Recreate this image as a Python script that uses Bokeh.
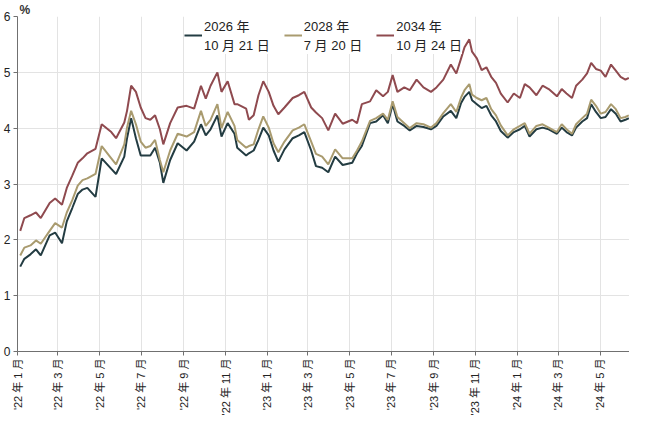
import pandas as pd
from math import pi
from bokeh.plotting import figure
from bokeh.models import ColumnDataSource, FixedTicker, Legend, LegendItem
from bokeh.embed import file_html
from bokeh.resources import INLINE

dates = [
    "2022-01-05", "2022-01-11", "2022-01-20", "2022-01-28", "2022-02-04", "2022-02-17", "2022-02-25",
    "2022-03-07", "2022-03-14", "2022-03-22", "2022-03-30", "2022-04-06", "2022-04-13", "2022-04-25",
    "2022-05-04", "2022-05-18", "2022-05-25", "2022-06-06", "2022-06-10", "2022-06-16", "2022-06-23",
    "2022-06-30", "2022-07-07", "2022-07-14", "2022-07-21", "2022-07-28", "2022-08-02", "2022-08-12",
    "2022-08-23", "2022-09-05", "2022-09-16", "2022-09-26", "2022-10-03", "2022-10-10", "2022-10-20",
    "2022-10-26", "2022-11-04", "2022-11-14", "2022-11-18", "2022-12-01", "2022-12-05", "2022-12-12",
    "2022-12-19", "2022-12-26", "2023-01-03", "2023-01-10", "2023-01-17", "2023-01-26", "2023-02-07",
    "2023-02-16", "2023-02-24", "2023-03-06", "2023-03-13", "2023-03-22", "2023-03-31", "2023-04-10",
    "2023-04-21", "2023-05-05", "2023-05-12", "2023-05-19", "2023-05-31", "2023-06-09", "2023-06-19",
    "2023-06-26", "2023-07-03", "2023-07-10", "2023-07-20", "2023-07-28", "2023-08-07", "2023-08-17",
    "2023-08-28", "2023-09-05", "2023-09-15", "2023-09-26", "2023-10-04", "2023-10-11", "2023-10-16",
    "2023-10-23", "2023-10-27", "2023-11-03", "2023-11-10", "2023-11-17", "2023-11-24", "2023-12-01",
    "2023-12-08", "2023-12-18", "2023-12-27", "2024-01-05", "2024-01-12", "2024-01-19", "2024-01-29",
    "2024-02-07", "2024-02-16", "2024-02-28", "2024-03-06", "2024-03-13", "2024-03-21", "2024-03-27",
    "2024-04-05", "2024-04-12", "2024-04-18", "2024-04-25", "2024-05-02", "2024-05-09", "2024-05-17",
    "2024-05-24", "2024-05-31", "2024-06-07", "2024-06-12",
]

bond_2034 = [
    2.16, 2.39, 2.44, 2.49, 2.39, 2.66, 2.74, 2.63, 2.93, 3.15, 3.38, 3.46, 3.55, 3.63,
    4.07, 3.93, 3.82, 4.10, 4.31, 4.76, 4.65, 4.37, 4.18, 4.15, 4.23, 3.98, 3.71, 4.09,
    4.37, 4.40, 4.35, 4.76, 4.53, 4.76, 5.00, 4.65, 4.84, 4.43, 4.43, 4.35, 4.15, 4.23,
    4.59, 4.84, 4.65, 4.40, 4.25, 4.37, 4.54, 4.59, 4.65, 4.37, 4.28, 4.18, 3.96, 4.26,
    4.08, 4.15, 4.09, 4.43, 4.48, 4.68, 4.57, 4.65, 4.95, 4.65, 4.73, 4.68, 4.87, 4.73,
    4.65, 4.73, 4.87, 5.14, 4.98, 5.25, 5.45, 5.59, 5.37, 5.25, 5.04, 5.09, 4.92, 4.81,
    4.62, 4.46, 4.62, 4.54, 4.79, 4.73, 4.59, 4.76, 4.70, 4.57, 4.70, 4.62, 4.54, 4.76,
    4.87, 4.98, 5.17, 5.06, 5.03, 4.92, 5.14, 5.03, 4.92, 4.87, 4.90,
]

bond_2028 = [
    1.72, 1.86, 1.90, 1.99, 1.93, 2.16, 2.30, 2.22, 2.49, 2.71, 2.97, 3.07, 3.10, 3.18,
    3.68, 3.46, 3.35, 3.71, 4.01, 4.31, 4.07, 3.76, 3.65, 3.68, 3.79, 3.43, 3.21, 3.60,
    3.90, 3.85, 3.93, 4.31, 4.04, 4.15, 4.43, 4.00, 4.29, 4.04, 3.79, 3.65, 3.68, 3.71,
    3.98, 4.21, 4.01, 3.73, 3.57, 3.76, 3.96, 4.01, 4.07, 3.76, 3.54, 3.49, 3.35, 3.62,
    3.46, 3.46, 3.60, 3.76, 4.13, 4.18, 4.26, 4.15, 4.48, 4.20, 4.09, 4.00, 4.09, 4.07,
    4.01, 4.09, 4.27, 4.43, 4.29, 4.55, 4.68, 4.79, 4.60, 4.54, 4.50, 4.54, 4.34, 4.23,
    4.05, 3.87, 3.98, 4.04, 4.09, 3.90, 4.04, 4.07, 4.01, 3.93, 4.07, 3.98, 3.90, 4.07,
    4.18, 4.26, 4.51, 4.40, 4.26, 4.29, 4.43, 4.34, 4.18, 4.20, 4.23,
]

bond_2026 = [
    1.52, 1.66, 1.74, 1.83, 1.72, 2.08, 2.13, 1.94, 2.33, 2.57, 2.82, 2.90, 2.93, 2.77,
    3.46, 3.27, 3.18, 3.49, 3.82, 4.18, 3.82, 3.51, 3.51, 3.51, 3.65, 3.38, 3.02, 3.43,
    3.73, 3.60, 3.76, 4.07, 3.87, 3.98, 4.23, 3.85, 4.09, 3.90, 3.65, 3.51, 3.55, 3.60,
    3.79, 4.01, 3.87, 3.60, 3.40, 3.62, 3.82, 3.87, 3.93, 3.60, 3.32, 3.29, 3.21, 3.49,
    3.34, 3.38, 3.55, 3.68, 4.09, 4.12, 4.23, 4.09, 4.43, 4.12, 4.04, 3.96, 4.04, 4.02,
    3.98, 4.04, 4.21, 4.31, 4.18, 4.45, 4.56, 4.65, 4.50, 4.43, 4.36, 4.40, 4.23, 4.12,
    3.95, 3.83, 3.93, 3.98, 4.04, 3.85, 3.98, 4.01, 3.98, 3.90, 4.01, 3.93, 3.87, 4.01,
    4.12, 4.18, 4.43, 4.29, 4.18, 4.20, 4.34, 4.26, 4.12, 4.15, 4.18,
]

series_labels = ["2026 年\n10 月 21 日", "2028 年\n7 月 20 日", "2034 年\n10 月 24 日"]
series_colors = ["#233c42", "#a99b6f", "#8f4a4f"]

tick_dates = [
    "2022-01-01", "2022-03-01", "2022-05-01", "2022-07-01", "2022-09-01", "2022-11-01",
    "2023-01-01", "2023-03-01", "2023-05-01", "2023-07-01", "2023-09-01", "2023-11-01",
    "2024-01-01", "2024-03-01", "2024-05-01",
]
tick_labels = [
    "'22 年 1 月", "'22 年 3 月", "'22 年 5 月", "'22 年 7 月", "'22 年 9 月", "'22 年 11 月",
    "'23 年 1 月", "'23 年 3 月", "'23 年 5 月", "'23 年 7 月", "'23 年 9 月", "'23 年 11 月",
    "'24 年 1 月", "'24 年 3 月", "'24 年 5 月",
]
y_ticks = [0, 1, 2, 3, 4, 5, 6]

origin = pd.Timestamp("2022-01-01")
x = [(pd.Timestamp(d) - origin).days for d in dates]
tx = [(pd.Timestamp(d) - origin).days for d in tick_dates]

src = ColumnDataSource(dict(x=x, d26=bond_2026, d28=bond_2028, d34=bond_2034))

FONT = "Liberation Sans, Noto Sans CJK JP, sans-serif"

p = figure(width=629, height=418, output_backend="svg", toolbar_location=None,
           x_range=(0, x[-1] + 1), y_range=(0, 6), title="%",
           min_border_left=4, min_border_right=0, min_border_top=2, min_border_bottom=0)
p.title.text_font = FONT
p.title.text_font_size = "12px"
p.title.text_font_style = "bold"
p.title.text_color = "#333333"
p.title.align = "left"
p.title.offset = 2
p.title.standoff = 0

p.outline_line_color = None
p.background_fill_color = "white"

r26 = p.line("x", "d26", source=src, line_color=series_colors[0], line_width=2)
r28 = p.line("x", "d28", source=src, line_color=series_colors[1], line_width=2)
r34 = p.line("x", "d34", source=src, line_color=series_colors[2], line_width=2)

p.xaxis.ticker = FixedTicker(ticks=tx)
p.xaxis.major_label_overrides = {t: l for t, l in zip(tx, tick_labels)}
p.xaxis.major_label_orientation = pi / 2
p.xaxis.minor_tick_line_color = None
p.yaxis.ticker = FixedTicker(ticks=y_ticks)
p.yaxis.minor_tick_line_color = None

for ax in (p.xaxis, p.yaxis):
    ax.axis_line_color = "#707070"
    ax.major_tick_line_color = "#707070"
    ax.major_tick_out = 4
    ax.major_tick_in = 0
    ax.major_label_text_font = FONT
    ax.major_label_text_color = "#222222"
    ax.major_label_standoff = 3
p.xaxis.major_label_text_font_size = "11px"
p.yaxis.major_label_text_font_size = "12px"

p.xgrid.ticker = FixedTicker(ticks=tx)
p.ygrid.ticker = FixedTicker(ticks=y_ticks)
p.xgrid.grid_line_color = "#e3e3e3"
p.ygrid.grid_line_color = "#e3e3e3"

legend = Legend(items=[
    LegendItem(label=series_labels[0], renderers=[r26]),
    LegendItem(label=series_labels[1], renderers=[r28]),
    LegendItem(label=series_labels[2], renderers=[r34]),
], location="top_center", orientation="horizontal")
legend.label_text_font = FONT
legend.label_text_font_size = "13px"
legend.label_text_color = "#222222"
legend.glyph_width = 18
legend.label_standoff = 2
legend.spacing = 14
legend.padding = 6
legend.margin = 0
legend.border_line_color = None
legend.background_fill_color = "white"
legend.background_fill_alpha = 1.0
p.add_layout(legend)

open("out.html", "w").write(file_html(p, INLINE))
